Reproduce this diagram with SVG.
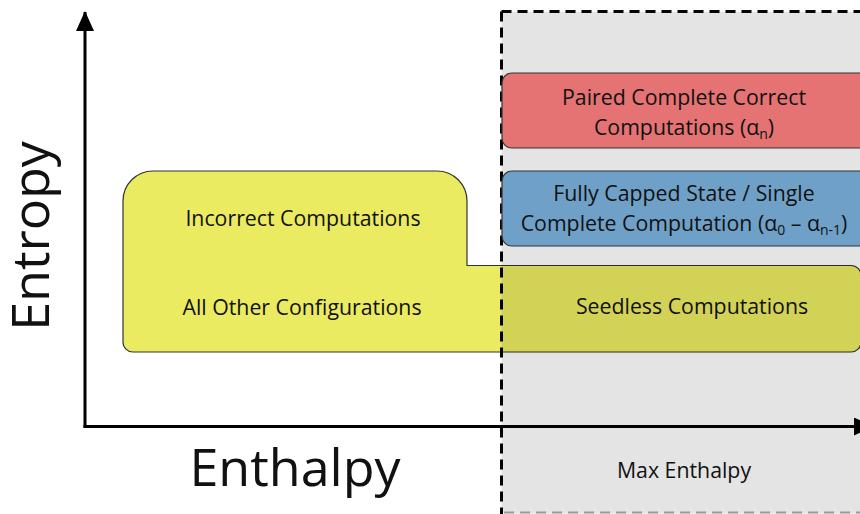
<svg xmlns="http://www.w3.org/2000/svg" width="860" height="514" viewBox="0 0 860 514">
<style>
  text { font-family: "Open Sans", "Liberation Sans", sans-serif; fill: #111; text-anchor: middle; }
  .lbl { font-size: 21.3px; }
  .big { font-size: 52px; }
  .box { stroke: #333; stroke-width: 1.2; }
  .axis { stroke: #000; stroke-width: 3; fill: none; }
  .dash { stroke: #000; stroke-width: 3; stroke-dasharray: 10 6; fill: none; }
  .sub { font-size: 14px; }
</style>
<defs>
  <marker id="arr" viewBox="0 0 20 18" refX="19" refY="9" markerWidth="20" markerHeight="18" markerUnits="userSpaceOnUse" orient="auto">
    <path d="M0,0 L20,9 L0,18 Z" fill="#000"/>
  </marker>
</defs>
<rect width="860" height="514" fill="#fff"/>

<g id="node-yellow">
  <path class="box" fill="#EBEB62" d="M153,171 H437 A30,30 0 0 1 467,201 V265.5 H851 A10,10 0 0 1 861,275.5 V342 A10,10 0 0 1 851,352 H133 A10,10 0 0 1 123,342 V201 A30,30 0 0 1 153,171 Z"/>
  <text class="lbl" x="303" y="226">Incorrect Computations</text>
  <text class="lbl" x="302" y="315">All Other Configurations</text>
</g>

<g id="node-maxenthalpy">
  <rect x="501.5" y="11.5" width="400" height="502" fill="#000" fill-opacity="0.105"/>
  <line x1="501.5" y1="11.5" x2="501.5" y2="514" class="dash"/>
  <line x1="501.5" y1="11.5" x2="860" y2="11.5" class="dash"/>
  <line x1="504" y1="512.5" x2="860" y2="512.5" stroke="#999" stroke-width="2" stroke-dasharray="10 6"/>
  <text class="lbl" x="684" y="478">Max Enthalpy</text>
</g>

<g id="node-seedless">
  <text class="lbl" x="692" y="314">Seedless Computations</text>
</g>

<g id="node-paired">
  <rect class="box" x="502" y="73" width="370" height="75" rx="10" fill="#E57373"/>
  <text class="lbl" x="684" y="105">Paired Complete Correct</text>
  <text class="lbl" x="684" y="135">Computations (α<tspan class="sub" dy="4">n</tspan><tspan dy="-4">)</tspan></text>
</g>

<g id="node-capped">
  <rect class="box" x="502" y="171" width="370" height="75" rx="10" fill="#6FA1C8"/>
  <text class="lbl" x="684" y="201">Fully Capped State / Single</text>
  <text class="lbl" x="684" y="231">Complete Computation (α<tspan class="sub" dy="4">0</tspan><tspan dy="-4"> – α</tspan><tspan class="sub" dy="4">n-1</tspan><tspan dy="-4">)</tspan></text>
</g>

<g id="connectors">
  <line class="axis" x1="85" y1="428" x2="85" y2="12" marker-end="url(#arr)"/>
  <line class="axis" x1="83.5" y1="426.5" x2="873" y2="426.5" marker-end="url(#arr)"/>
</g>

<text class="big" x="295" y="486">Enthalpy</text>
<text class="big" transform="translate(49,236) rotate(-90)" x="0" y="0">Entropy</text>
</svg>
